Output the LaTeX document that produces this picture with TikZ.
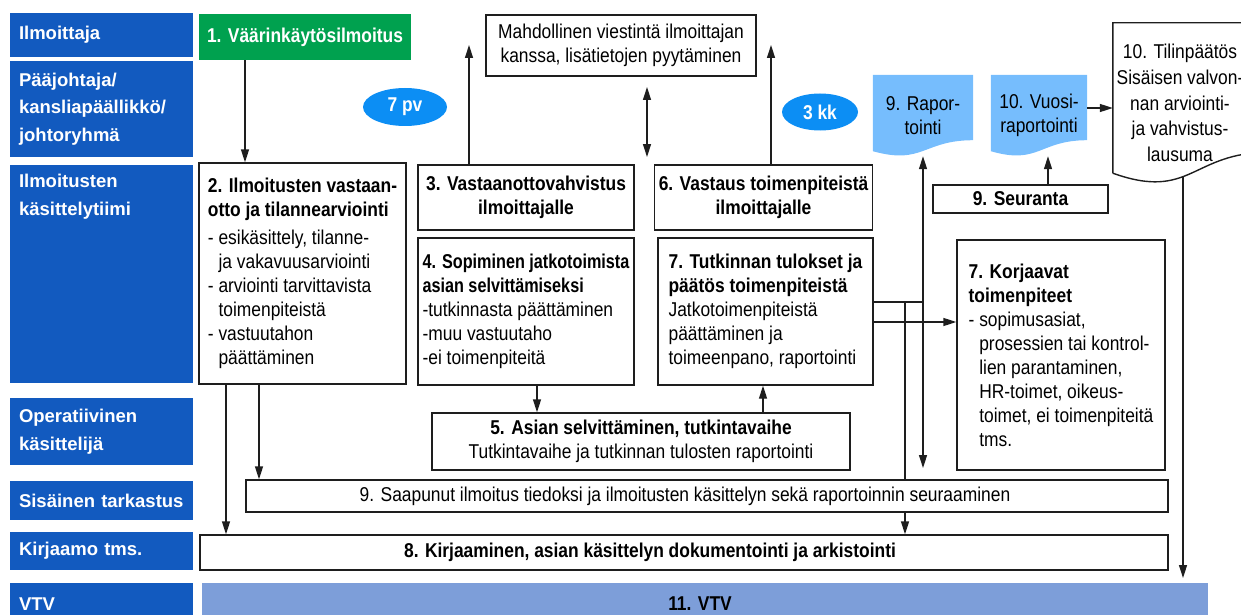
\documentclass[tikz,border=0pt]{standalone}
\usepackage{fontspec}
\setmainfont{Liberation Sans}[FakeStretch=0.87]
\newfontfamily\labfont{Liberation Sans}
\newfontfamily\narrowfont{Liberation Sans}[FakeStretch=0.81]
\usetikzlibrary{arrows.meta,shapes.geometric,calc,backgrounds}

\definecolor{lanecol}{HTML}{125ABF}
\definecolor{startcol}{HTML}{00A14F}
\definecolor{dayscol}{HTML}{0C8EF4}
\definecolor{doccol}{HTML}{76BDFD}
\definecolor{vtvcol}{HTML}{7D9ED9}
\definecolor{linecol}{HTML}{1E1E1E}

\begin{document}
\begin{tikzpicture}[
        x=1pt, y=-1pt,
        lane/.style={
            fill=lanecol,
            text=white,
            font=\labfont\bfseries\fontsize{18.5}{27.5}\selectfont,
            align=left,
            text width=165pt,
            minimum width=183pt,
            inner xsep=9pt},
        box/.style={
            draw=linecol,
            line width=1.4pt,
            fill=white,
            font=\fontsize{20}{24}\selectfont,
            inner sep=4pt},
        days/.style={
            ellipse,
            fill=dayscol,
            text=white,
            font=\bfseries\fontsize{20}{24}\selectfont,
            inner sep=0pt},
        arr/.style={-{Triangle[length=13pt,width=8pt]}, line width=1.4pt, draw=linecol},
        darr/.style={{Triangle[length=13pt,width=8pt]}-{Triangle[length=13pt,width=8pt]}, line width=1.4pt, draw=linecol}]
    \useasboundingbox (0,0) rectangle (1241,615);
    \clip (0,0) rectangle (1241,615);

    % lanes
    \node[lane, minimum height=44pt] (lrep) at (101.5,35) {Ilmoittaja};
    \node[lane, minimum height=96pt] (lmgmt) at (101.5,109) {Pääjohtaja/\\kansliapäällikkö/\\johtoryhmä};
    \node[lane, minimum height=218pt, inner ysep=8pt, text depth=186pt] (lteam) at (101.5,274) {Ilmoitusten\\käsittelytiimi};
    \node[lane, minimum height=67pt] (loper) at (101.5,431.5) {Operatiivinen\\käsittelijä};
    \node[lane, minimum height=39pt] (laudit) at (101.5,500.5) {Sisäinen tarkastus};
    \node[lane, minimum height=38pt] (lreg) at (101.5,551) {Kirjaamo tms.};
    \node[lane, minimum height=42pt] (lvtv) at (101.5,604) {VTV};

    % steps
    \node[fill=startcol, text=white, font=\bfseries\fontsize{20}{24}\selectfont,
        minimum width=212pt, minimum height=46pt] (start) at (305,37) {1. Väärinkäytösilmoitus};
    \node[box, minimum width=207pt, minimum height=221pt, align=left] (recv) at (302.5,273.5)
        {\textbf{2. Ilmoitusten vastaan-}\\\textbf{otto ja tilannearviointi}\\[4pt]
         - esikäsittely, tilanne-\\\phantom{- }ja vakavuusarviointi\\
         - arviointi tarvittavista\\\phantom{- }toimenpiteistä\\
         - vastuutahon\\\phantom{- }päättäminen};
    \node[box, minimum width=270pt, minimum height=61pt, align=center] (msg) at (621,45.5)
        {Mahdollinen viestintä ilmoittajan\\kanssa, lisätietojen pyytäminen};
    \node[box, minimum width=216pt, minimum height=65pt, align=center, font=\bfseries\fontsize{20}{24}\selectfont] (conf) at (526,197.5)
        {3. Vastaanottovahvistus\\ilmoittajalle};
    \node[box, minimum width=211pt, minimum height=65pt, align=center, font=\bfseries\fontsize{20}{24}\selectfont] (reply) at (763.5,197.5)
        {6. Vastaus toimenpiteistä\\ilmoittajalle};
    \node[box, minimum width=216pt, minimum height=147pt, align=left] (agree) at (526,311.5)
        {\textbf{\narrowfont 4. Sopiminen jatkotoimista}\\\textbf{\narrowfont asian selvittämiseksi}\\
         -tutkinnasta päättäminen\\-muu vastuutaho\\-ei toimenpiteitä};
    \node[box, minimum width=215pt, minimum height=147pt, align=left] (result) at (765.5,311.5)
        {\textbf{7. Tutkinnan tulokset ja}\\\textbf{päätös toimenpiteistä}\\
         Jatkotoimenpiteistä\\päättäminen ja\\toimeenpano, raportointi};
    \node[box, minimum width=418pt, minimum height=57pt, align=center] (inv) at (641,441.5)
        {\textbf{5. Asian selvittäminen, tutkintavaihe}\\Tutkintavaihe ja tutkinnan tulosten raportointi};
    \node[box, minimum width=922pt, minimum height=32pt] (info) at (707,496)
        {\hspace*{-44pt}9. Saapunut ilmoitus tiedoksi ja ilmoitusten käsittelyn sekä raportoinnin seuraaminen};
    \node[box, minimum width=968pt, minimum height=35pt, font=\bfseries\fontsize{20}{24}\selectfont] (reg) at (684,552.5)
        {\hspace*{-68pt}8. Kirjaaminen, asian käsittelyn dokumentointi ja arkistointi};
    \node[fill=vtvcol, minimum width=1006pt, minimum height=42pt, font=\bfseries\fontsize{20}{24}\selectfont] (vtv) at (705,604)
        {\hspace*{-10pt}11. VTV};
    \node[box, minimum width=175pt, minimum height=28pt, inner sep=0pt, font=\bfseries\fontsize{20}{24}\selectfont] (follow) at (1020.5,199)
        {9. Seuranta};
    \node[box, minimum width=208pt, minimum height=230pt, align=left] (fix) at (1061,355)
        {\textbf{7. Korjaavat}\\\textbf{toimenpiteet}\\
         - sopimusasiat,\\\phantom{- }prosessien tai kontrol-\\\phantom{- }lien parantaminen,\\
         \phantom{- }HR-toimet, oikeus-\\\phantom{- }toimet, ei toimenpiteitä\\\phantom{- }tms.};

    % reports
    \node[minimum width=100pt, minimum height=81pt, align=center, font=\fontsize{20}{24}\selectfont] (rep) at (923,115.5)
        {9. Rapor-\\tointi};
    \node[minimum width=96pt, minimum height=81pt, align=center, font=\fontsize{20}{24}\selectfont] (annual) at (1039,115.5)
        {10. Vuosi-\\raportointi};
    \node[minimum width=134pt, minimum height=160pt, align=center, font=\fontsize{20}{25.7}\selectfont] (fin) at (1180,103)
        {10. Tilinpäätös\\Sisäisen valvon-\\nan arviointi-\\ja vahvistus-\\lausuma};
    \begin{scope}[on background layer]
        \fill[doccol] (rep.north west) -- (rep.north east) -- ($(rep.south east)+(0,-16)$)
            .. controls ($(rep.south)+(0,-16)$) and ($(rep.south)+(0,9)$) .. ($(rep.south west)+(0,-5)$) -- cycle;
        \fill[doccol] (annual.north west) -- (annual.north east) -- ($(annual.south east)+(0,-16)$)
            .. controls ($(annual.south)+(0,-16)$) and ($(annual.south)+(0,9)$) .. ($(annual.south west)+(0,-5)$) -- cycle;
    \end{scope}
    \draw[line width=1.4pt, draw=linecol] ($(fin.south west)+(0,-10)$) -- (fin.north west) -- ($(fin.north west)+(157,0)$)
        -- ($(fin.south west)+(157,-31)$)
        .. controls ($(fin.south west)+(78.5,-31)$) and ($(fin.south west)+(78.5,18)$) .. ($(fin.south west)+(0,-10)$);

    % deadlines
    \node[days, minimum width=84pt, minimum height=38pt] (d7) at (405,107) {7 pv};
    \node[days, minimum width=76pt, minimum height=37pt] (m3) at (820,112) {3 kk};

    % connectors
    \coordinate (c1) at (245,0);
    \coordinate (c2) at (226,0);
    \coordinate (c3) at (259,0);
    \coordinate (up3) at (469,45);
    \coordinate (up6) at (771,45);
    \coordinate (ask1) at (647,87);
    \coordinate (ask2) at (647,157);
    \coordinate (c4) at (537,0);
    \coordinate (c5) at (763,0);
    \coordinate (j1) at (905,302);
    \coordinate (j2) at (0,322);
    \coordinate (down1) at (923,468);
    \coordinate (c6) at (1048,0);
    \coordinate (c7) at (0,108);
    \coordinate (down2) at (1183,578);

    \draw[arr] (start.south -| c1) -- (recv.north -| c1);
    \draw[arr] (recv.south -| c2) -- (reg.north -| c2);
    \draw[arr] (recv.south -| c3) -- (info.north -| c3);
    \draw[arr] (conf.north -| up3) -- (up3);
    \draw[arr] (reply.north -| up6) -- (up6);
    \draw[darr] (ask1) -- (ask2);
    \draw[arr] (agree.south -| c4) -- (inv.north -| c4);
    \draw[arr] (inv.north -| c5) -- (result.south -| c5);
    \draw[line width=1.4pt, draw=linecol] (result.east |- j1) -- (j1 -| rep.south);
    \draw[line width=1.4pt, draw=linecol] (j1) -- (info.north -| j1);
    \draw[arr] (info.south -| j1) -- (reg.north -| j1);
    \draw[arr] (result.east |- j2) -- (fix.west |- j2);
    \draw[darr] (rep.south) -- (down1);
    \draw[arr] (follow.north -| c6) -- (annual.south -| c6);
    \draw[arr] (annual.east |- c7) -- (fin.west |- c7);
    \draw[arr] ($(fin.south -| down2)+(0,-7)$) -- (down2);
\end{tikzpicture}
\end{document}
